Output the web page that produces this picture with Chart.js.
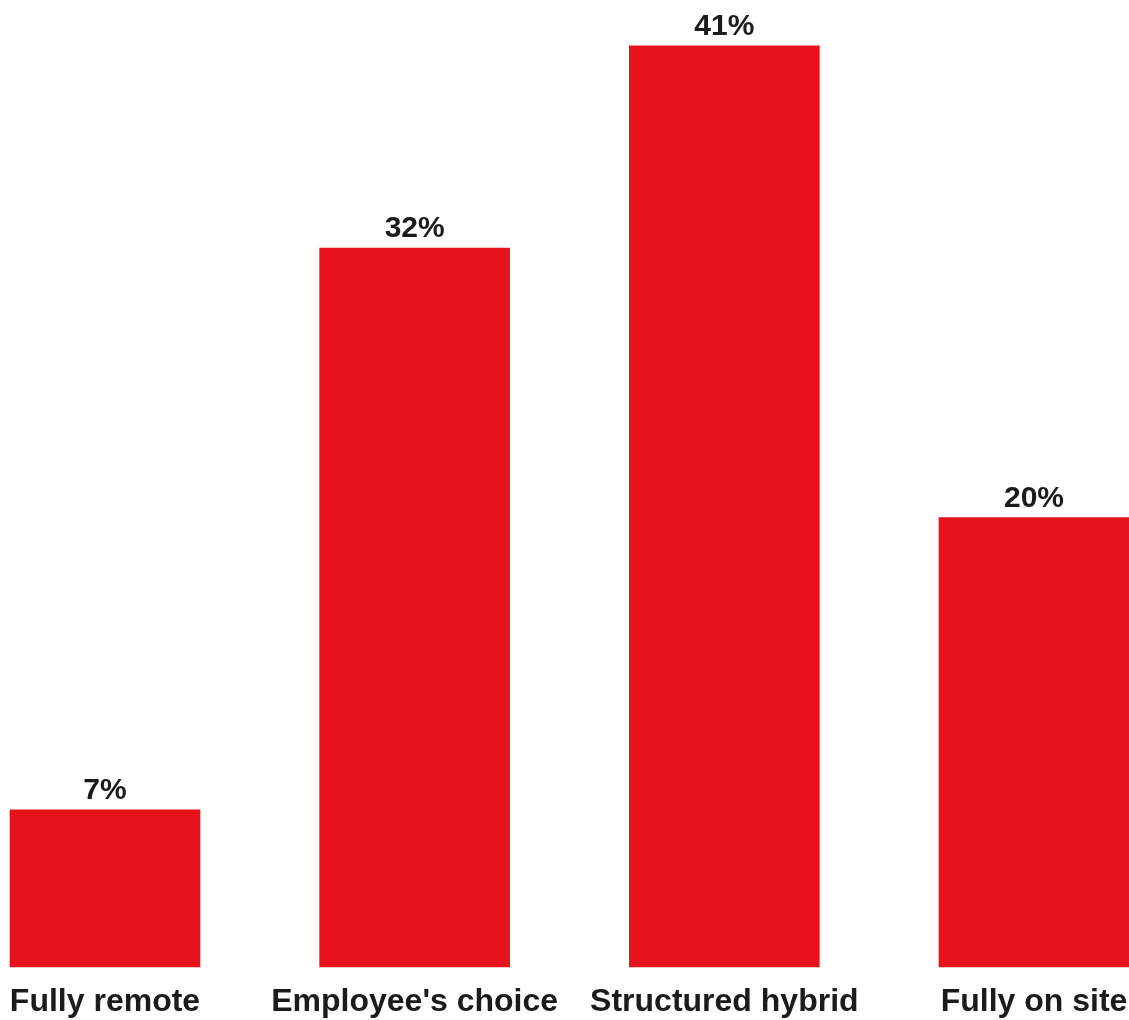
<!DOCTYPE html>
<html>
<head>
<meta charset="utf-8">
<style>
  html, body { margin: 0; padding: 0; background: #ffffff; }
  canvas { display: block; }
</style>
<script src="https://cdn.jsdelivr.net/npm/chart.js@4/dist/chart.umd.min.js"></script>
</head>
<body>
<canvas id="c" width="1129" height="1020"></canvas>
<script>
const categories = ["Fully remote", "Employee's choice", "Structured hybrid", "Fully on site"];
const shares = [7, 32, 41, 20];
const valueLabels = ["7%", "32%", "41%", "20%"];

const FONT = "'Liberation Sans', Arial, sans-serif";
const TEXT = "#1b1b1b";
const RED = "#E8121C";

const valueLabelPlugin = {
  id: 'valueLabels',
  afterDatasetsDraw(chart) {
    const ctx = chart.ctx;
    const meta = chart.getDatasetMeta(0);
    ctx.save();
    ctx.font = "bold 30px " + FONT;
    ctx.fillStyle = TEXT;
    ctx.textAlign = 'center';
    ctx.textBaseline = 'alphabetic';
    meta.data.forEach((bar, i) => {
      ctx.fillText(valueLabels[i], bar.x, bar.y - 11);
    });
    ctx.restore();
  }
};

new Chart(document.getElementById('c'), {
  type: 'bar',
  data: {
    labels: categories,
    datasets: [{
      data: shares,
      backgroundColor: RED,
      borderWidth: 0,
      barThickness: 190,
      clip: false
    }]
  },
  options: {
    responsive: false,
    devicePixelRatio: 1,
    animation: false,
    layout: { padding: { left: 105, right: 95, top: 1, bottom: 0 } },
    plugins: {
      legend: { display: false },
      tooltip: { enabled: false }
    },
    scales: {
      x: {
        offset: false,
        grid: { display: false, drawTicks: false },
        border: { display: false },
        ticks: {
          autoSkip: false,
          maxRotation: 0,
          minRotation: 0,
          padding: 16,
          color: TEXT,
          font: { family: FONT, size: 32, weight: 'bold' }
        },
        afterFit(scale) {
          scale.height = 53;
          scale.paddingLeft = 0;
          scale.paddingRight = 0;
        }
      },
      y: {
        display: false,
        min: 0,
        max: 43
      }
    }
  },
  plugins: [valueLabelPlugin]
});
</script>
</body>
</html>
